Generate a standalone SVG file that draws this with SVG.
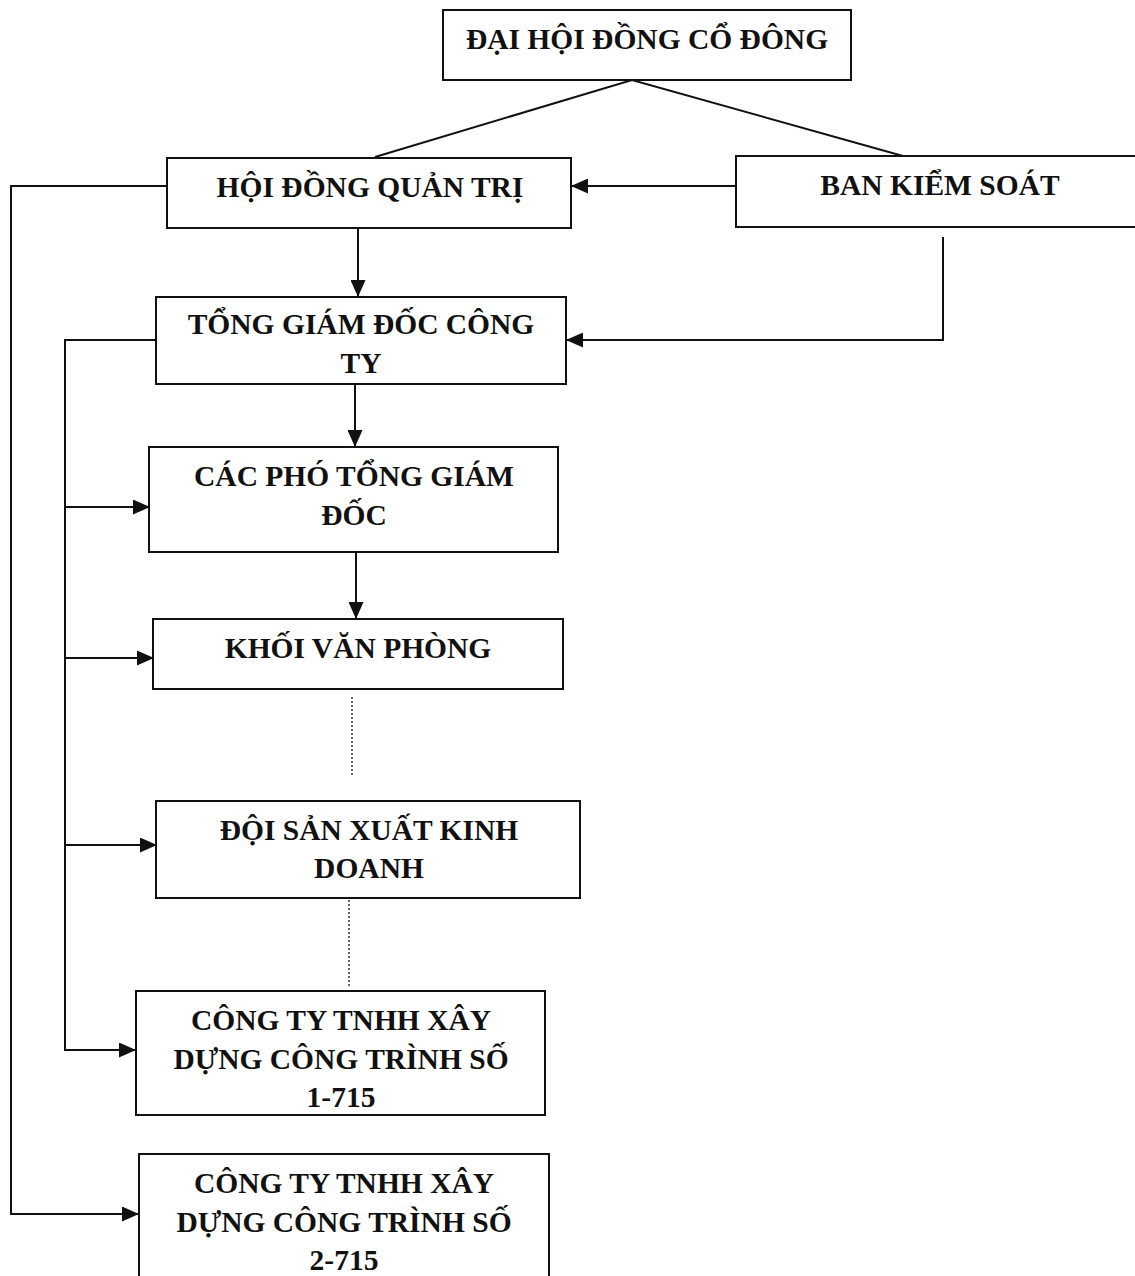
<svg xmlns="http://www.w3.org/2000/svg" width="1135" height="1276" viewBox="0 0 1135 1276">
<defs>
<style>
.box{fill:#fff;stroke:#111;stroke-width:2}
.t{font-family:"Liberation Serif","Times New Roman",serif;font-weight:bold;font-size:29.5px;fill:#111;text-anchor:middle}
.ln{fill:none;stroke:#111;stroke-width:2}
.dot{fill:none;stroke:#333;stroke-width:1.5;stroke-dasharray:2 2}
</style>
<marker id="ah" markerUnits="userSpaceOnUse" markerWidth="17" markerHeight="15" refX="16" refY="7.5" orient="auto">
<path d="M0,0 L17,7.5 L0,15 Z" fill="#111"/>
</marker>
</defs>
<rect width="1135" height="1276" fill="#fff"/>
<g id="connectors">
<polyline class="ln" points="375,157 632,80 903,156"/>
<line class="ln" x1="736" y1="186" x2="572" y2="186" marker-end="url(#ah)"/>
<line class="ln" x1="358" y1="228" x2="358" y2="296" marker-end="url(#ah)"/>
<polyline class="ln" points="943,237 943,340 567,340" marker-end="url(#ah)"/>
<line class="ln" x1="355" y1="384" x2="355" y2="446" marker-end="url(#ah)"/>
<line class="ln" x1="356" y1="552" x2="356" y2="618" marker-end="url(#ah)"/>
<line class="dot" x1="352" y1="697" x2="352" y2="775"/>
<line class="dot" x1="349" y1="900" x2="349" y2="988"/>
<polyline class="ln" points="167,186 11,186 11,1214 138,1214" marker-end="url(#ah)"/>
<polyline class="ln" points="156,340 65,340 65,1050 135,1050" marker-end="url(#ah)"/>
<line class="ln" x1="65" y1="507" x2="149" y2="507" marker-end="url(#ah)"/>
<line class="ln" x1="66" y1="658" x2="153" y2="658" marker-end="url(#ah)"/>
<line class="ln" x1="65" y1="845" x2="156" y2="845" marker-end="url(#ah)"/>
</g>
<g id="dhdcd"><rect class="box" x="443" y="10" width="408" height="70"/><text class="t" x="647" y="49">ĐẠI HỘI ĐỒNG CỔ ĐÔNG</text></g>
<g id="hdqt"><rect class="box" x="167" y="158" width="404" height="70"/><text class="t" x="370" y="197">HỘI ĐỒNG QUẢN TRỊ</text></g>
<g id="bks"><rect class="box" x="736" y="156" width="410" height="71"/><text class="t" x="940" y="195">BAN KIỂM SOÁT</text></g>
<g id="tgd"><rect class="box" x="156" y="297" width="410" height="87"/><text class="t" x="361" y="334">TỔNG GIÁM ĐỐC CÔNG</text><text class="t" x="361" y="373">TY</text></g>
<g id="ptgd"><rect class="box" x="149" y="447" width="409" height="105"/><text class="t" x="354" y="486">CÁC PHÓ TỔNG GIÁM</text><text class="t" x="354" y="525">ĐỐC</text></g>
<g id="kvp"><rect class="box" x="153" y="619" width="410" height="70"/><text class="t" x="358" y="658">KHỐI VĂN PHÒNG</text></g>
<g id="dsxkd"><rect class="box" x="156" y="801" width="424" height="97"/><text class="t" x="369" y="840">ĐỘI SẢN XUẤT KINH</text><text class="t" x="369" y="878">DOANH</text></g>
<g id="ct1"><rect class="box" x="136" y="991" width="409" height="124"/><text class="t" x="341" y="1030">CÔNG TY TNHH XÂY</text><text class="t" x="341" y="1069">DỰNG CÔNG TRÌNH SỐ</text><text class="t" x="341" y="1107">1-715</text></g>
<g id="ct2"><rect class="box" x="139" y="1154" width="410" height="130"/><text class="t" x="344" y="1193">CÔNG TY TNHH XÂY</text><text class="t" x="344" y="1232">DỰNG CÔNG TRÌNH SỐ</text><text class="t" x="344" y="1270">2-715</text></g>
</svg>
